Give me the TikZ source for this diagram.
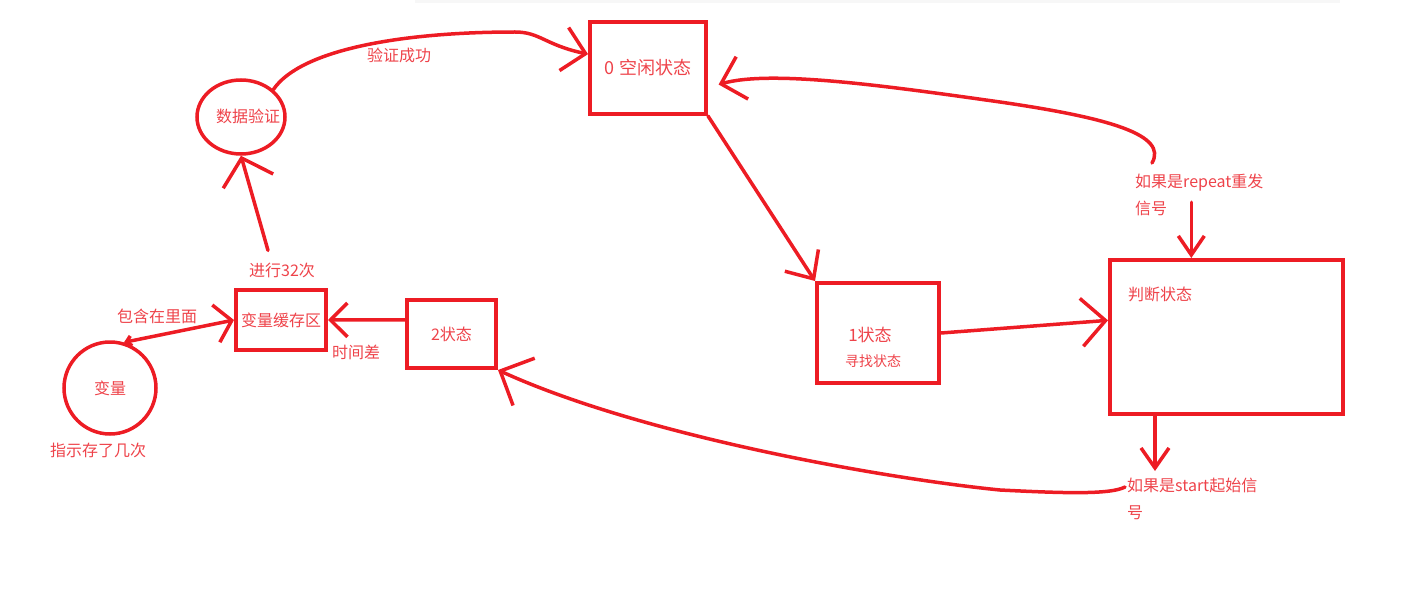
\documentclass[tikz,border=0pt]{standalone}
\usepackage{fontspec}
\setmainfont{Noto Sans CJK SC}
\usetikzlibrary{arrows.meta,calc,shapes.geometric}
\definecolor{penred}{HTML}{ED1C24}
\definecolor{inkred}{HTML}{EE434A}

\begin{document}
\begin{tikzpicture}[x=1pt,y=-1pt,
  statebox/.style={draw=penred,line width=4pt,inner sep=0pt,text=inkred},
  blob/.style={draw=penred,line width=3.5pt,ellipse,inner sep=0pt,text=inkred,font=\fontsize{16}{19}\selectfont},
  lbl/.style={text=inkred,inner sep=0pt,font=\fontsize{16}{19}\selectfont},
  sketch/.style 2 args={draw=penred,line width=3.5pt,line cap=round,line join=round,
    -{Straight Barb[length=#1,width=#2]}},
]
\useasboundingbox (0,0) rectangle (1426,607);
% shadow of the bar above
\fill[black!3] (415,0) rectangle (1340,3);
% states
\node[statebox,minimum width=116pt,minimum height=92pt,font=\fontsize{18}{22}\selectfont] (idle) at (648,68) {0 空闲状态};
\node[statebox,minimum width=122pt,minimum height=100pt] (find) at (878,333) {};
\node[lbl,font=\fontsize{17}{20}\selectfont] (findnum) at (870,335) {1状态};
\node[lbl,font=\fontsize{14}{17}\selectfont] (findtxt) at (873,361) {寻找状态};
\node[statebox,minimum width=233pt,minimum height=154pt] (judge) at (1226.5,337) {};
\node[lbl] (judgetxt) at (1160,294) {判断状态};
\node[statebox,minimum width=89pt,minimum height=68pt,font=\fontsize{16}{19}\selectfont] (two) at (451.5,334) {2状态};
\node[statebox,minimum width=90pt,minimum height=60pt,font=\fontsize{16}{19}\selectfont] (cache) at (281,320) {变量缓存区};
% circles
\node[blob,minimum width=88pt,minimum height=74pt] (verify) at (241,117) {};
\node[lbl] (verifytxt) at (248,116) {数据验证};
\node[blob,minimum width=92pt,minimum height=92pt] (var) at (110,388) {变量};
% labels
\node[lbl] (okay) at (399,55) {验证成功};
\node[lbl] (times) at (282,270) {进行32次};
\node[lbl] (inside) at (157,316) {包含在里面};
\node[lbl] (delay) at (356,352) {时间差};
\node[lbl] (count) at (98,450) {指示存了几次};
\node[lbl,anchor=north west,align=left,font=\fontsize{16}{27}\selectfont] (repeat) at (1135,174) {如果是repeat重发\\信号};
\node[lbl,anchor=north west,align=left,font=\fontsize{16}{27}\selectfont] (start) at (1127,478) {如果是start起始信\\号};
% helper points
\coordinate (repup) at ($(repeat.north west)+(17,-11)$);
\coordinate (repdrop) at ($(repeat.south)+(-8,-14)$);
\coordinate (jdrop) at ($(judge.south west)+(47,0)$);
\coordinate (stleft) at ($(start.north west)+(-2,9)$);
\coordinate (timesup) at ($(times.north)+(-14,-12)$);
% connectors
\draw[sketch={22pt}{44pt}] (verify.north east) .. controls (300,50) and (400,32) .. (515,32)
  .. controls (540,32) and (545,45) .. (idle.167);
\draw[sketch={22pt}{40pt}] (idle.south east) -- (find.north west);
\draw[sketch={24pt}{48pt}] (find.east) -- (judge.172);
\draw[sketch={22pt}{44pt},shorten >=11pt] (repup) .. controls (1168,135) and (1110,118) .. (1000,102)
  .. controls (880,85) and (770,70) .. (idle.342);
\draw[sketch={19pt}{26pt}] (repdrop) -- (repdrop |- judge.north);
\draw[sketch={20pt}{28pt},shorten >=7pt] (jdrop) -- (jdrop |- start.north);
\draw[sketch={26pt}{52pt}] (stleft) .. controls (1110,495) and (1060,493) .. (1000,490)
  .. controls (880,478) and (640,435) .. (two.south east);
\draw[sketch={17pt}{34pt}] (two.163) -- (cache.east);
\draw[draw=penred,line width=3.5pt,line cap=round,line join=round,
  {Straight Barb[length=5pt,width=10pt]}-{Straight Barb[length=16pt,width=38pt]}] (var.73) -- (cache.west);
\draw[sketch={24pt}{52pt}] (timesup) -- (verify.south);
\end{tikzpicture}
\end{document}
